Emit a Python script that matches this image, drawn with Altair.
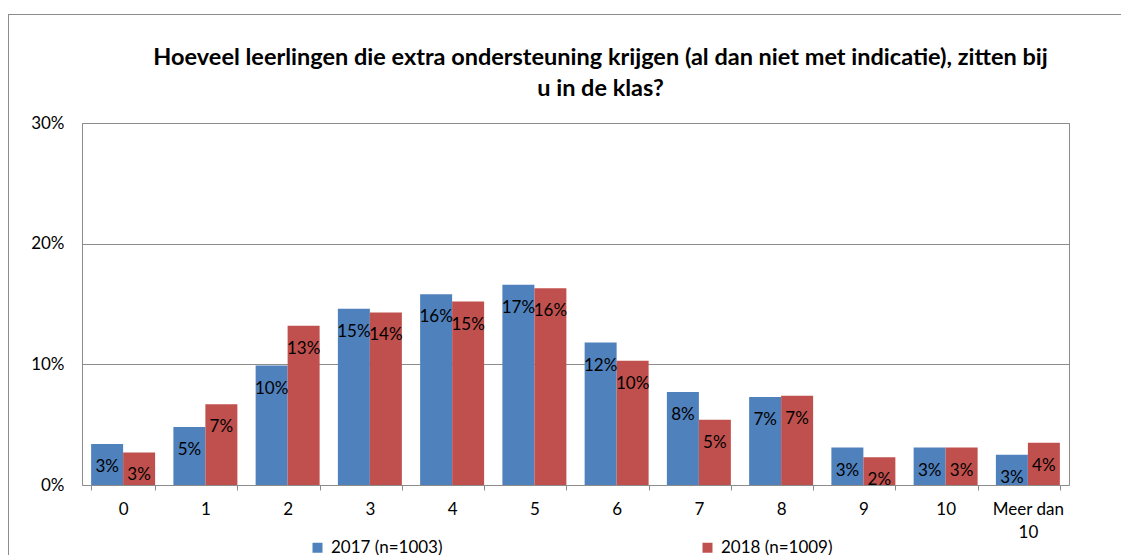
import altair as alt
import pandas as pd

categories = ["0", "1", "2", "3", "4", "5", "6", "7", "8", "9", "10", "Meer dan 10"]
series = ["2017 (n=1003)", "2018 (n=1009)"]
values_2017 = [0.034, 0.048, 0.099, 0.146, 0.158, 0.166, 0.118, 0.077, 0.073, 0.031, 0.031, 0.025]
values_2018 = [0.027, 0.067, 0.132, 0.143, 0.152, 0.163, 0.103, 0.054, 0.074, 0.023, 0.031, 0.035]
y_ticks = [0, 0.1, 0.2, 0.3]
colors = ["#4F81BD", "#C0504D"]
title_lines = [
    "Hoeveel leerlingen die extra ondersteuning krijgen (al dan niet met indicatie), zitten bij",
    "u in de klas?",
]

rows = []
for c, v in zip(categories, values_2017):
    rows.append({"cat": c, "serie": series[0], "val": v})
for c, v in zip(categories, values_2018):
    rows.append({"cat": c, "serie": series[1], "val": v})
df = pd.DataFrame(rows)

FONT = "Lato"
GRID = "#8c8c8c"

x_enc = alt.X(
    "cat:N",
    sort=categories,
    scale=alt.Scale(paddingInner=0.222, paddingOuter=0.111),
    axis=alt.Axis(
        title=None,
        labelAngle=0,
        labelFont=FONT,
        labelFontSize=17,
        labelColor="#000000",
        labelPadding=11,
        labelLineHeight=23,
        labelExpr="datum.label == 'Meer dan 10' ? ['Meer dan', '10'] : datum.label",
        tickBand="extent",
        tickColor=GRID,
        tickSize=5,
        domain=False,
        grid=False,
    ),
)
y_enc = alt.Y(
    "val:Q",
    scale=alt.Scale(domain=[0, 0.3]),
    axis=alt.Axis(
        title=None,
        values=y_ticks,
        format=".0%",
        labelFont=FONT,
        labelFontSize=17,
        labelColor="#000000",
        labelPadding=18,
        ticks=False,
        tickSize=0,
        domain=False,
        grid=True,
        gridColor=GRID,
        gridWidth=1,
    ),
)
xoff = alt.XOffset("serie:N", sort=series, scale=alt.Scale(paddingInner=0, paddingOuter=0))

bars = alt.Chart(df).mark_bar().encode(
    x=x_enc,
    xOffset=xoff,
    y=y_enc,
    color=alt.Color(
        "serie:N",
        sort=series,
        scale=alt.Scale(domain=series, range=colors),
        legend=alt.Legend(
            title=None,
            orient="none",
            direction="horizontal",
            legendX=227,
            legendY=416,
            symbolType="square",
            symbolSize=100,
            symbolStrokeWidth=0,
            labelFont=FONT,
            labelFontSize=17,
            labelColor="#000000",
            labelOffset=5,
            columnPadding=256,
        ),
    ),
)

labels = alt.Chart(df).mark_text(
    font=FONT, fontSize=17, color="#000000", baseline="middle", align="center", dy=23
).encode(
    x=alt.X("cat:N", sort=categories),
    xOffset=xoff,
    y="val:Q",
    text=alt.Text("val:Q", format=".0%"),
)

frame_top = alt.Chart(df).mark_rule(color=GRID, strokeWidth=1, clip=False).encode(
    x=alt.value(-73.5), x2=alt.value(1100), y=alt.value(-108.5)
)
frame_left = alt.Chart(df).mark_rule(color=GRID, strokeWidth=1, clip=False).encode(
    x=alt.value(-73.5), y=alt.value(-108.5), y2=alt.value(460)
)

chart = alt.layer(frame_top, frame_left, bars, labels).properties(
    width=987,
    height=362,
    autosize=alt.AutoSizeParams(type="none"),
    padding={"left": 74, "top": 115, "right": 52, "bottom": 72},
    title=alt.TitleParams(
        text=title_lines,
        font=FONT,
        fontSize=23.5,
        fontWeight="bold",
        color="#000000",
        anchor="middle",
        frame="group",
        dx=25,
        dy=86,
        offset=0,
        lineHeight=31,
    ),
).configure_view(stroke=GRID, strokeWidth=1)

chart.save("out.html", embed_options={"renderer": "svg", "actions": False})
